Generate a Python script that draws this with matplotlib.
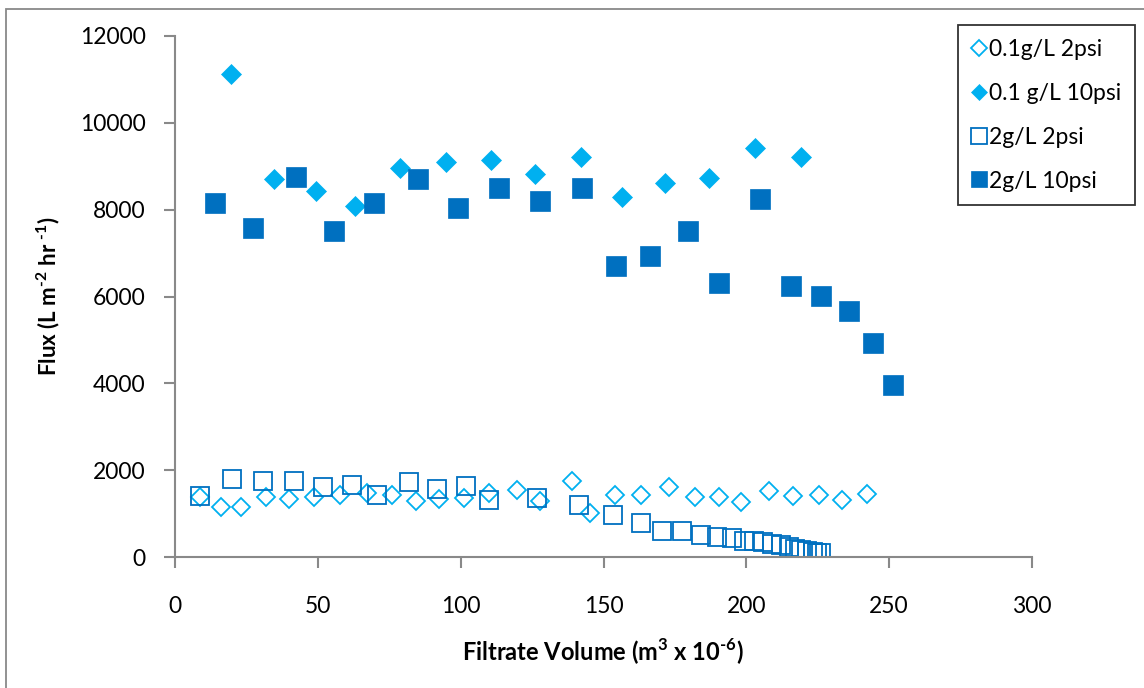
import matplotlib.pyplot as plt
from matplotlib.patches import Rectangle

plt.rcParams['font.family'] = ['Lato', 'DejaVu Sans']
plt.rcParams['mathtext.fontset'] = 'custom'
plt.rcParams['mathtext.rm'] = 'Lato'
plt.rcParams['mathtext.bf'] = 'Lato:bold'

# 0.1 g/L at 2 psi
vol_01_2 = [8.8, 16, 23, 31.9, 40, 48.7, 57.8, 67.1, 76, 84.4, 92.5, 101.2, 110, 119.6,
            127.8, 139, 145.3, 154.1, 163, 173, 181.9, 190.3, 198.2, 207.8, 216.4,
            225.3, 233.5, 242.3]
flux_01_2 = [1390, 1160, 1160, 1375, 1330, 1375, 1435, 1465, 1435, 1300, 1330, 1350, 1465,
             1540, 1300, 1755, 1020, 1435, 1435, 1620, 1390, 1390, 1270, 1525, 1405,
             1420, 1315, 1450]

# 0.1 g/L at 10 psi
vol_01_10 = [19.6, 34.7, 49.4, 63, 78.8, 94.9, 110.6, 126, 142.1, 156.5, 171.5, 186.9,
             203, 219.1]
flux_01_10 = [11130, 8710, 8430, 8080, 8950, 9100, 9150, 8820, 9210, 8290, 8610, 8720,
              9410, 9210]

# 2 g/L at 2 psi
vol_2_2 = [8.8, 20, 30.9, 41.7, 51.7, 62, 70.8, 81.8, 91.6, 101.7, 109.8, 126.6, 141.5,
           153.4, 163.2, 170.5, 177.5, 184, 189.6, 195, 199.2, 202.7, 205.7, 209, 212,
           214.8, 217.1, 219.2, 221.3, 223.2, 224.8, 226.2]
flux_2_2 = [1405, 1800, 1740, 1740, 1605, 1650, 1435, 1725, 1560, 1635, 1315, 1360, 1205,
            960, 790, 605, 590, 515, 455, 435, 375, 360, 345, 300, 270, 225, 190, 160,
            130, 115, 100, 85]

# 2 g/L at 10 psi
vol_2_10 = [14, 27.3, 42.4, 55.7, 69.7, 85.1, 99.1, 113.4, 127.8, 142.5, 154.4, 166.3,
            179.6, 190.4, 204.8, 215.6, 226.1, 236, 244.3, 251.3]
flux_2_10 = [8150, 7575, 8760, 7510, 8150, 8710, 8040, 8490, 8200, 8490, 6700, 6930,
             7500, 6310, 8240, 6240, 6010, 5670, 4930, 3960]

light = '#00B0F0'
dark = '#0070C0'
grey = '#898989'

fig = plt.figure(figsize=(11.44, 6.88), dpi=100)
ax = fig.add_axes([175 / 1144, 1 - 557 / 688, 857 / 1144, 521 / 688])

ax.plot(vol_01_2, flux_01_2, 'D', ms=9.6, mfc='white', mec=light, mew=1.3,
        ls='none', label='0.1g/L 2psi')
ax.plot(vol_01_10, flux_01_10, 'D', ms=9.8, mfc=light, mec=light, mew=0.5,
        ls='none', label='0.1 g/L 10psi')
ax.plot(vol_2_2, flux_2_2, 's', ms=13.2, mfc='none', mec=dark, mew=1.3,
        ls='none', label='2g/L 2psi')
ax.plot(vol_2_10, flux_2_10, 's', ms=14.2, mfc=dark, mec=dark, mew=0.5,
        ls='none', label='2g/L 10psi')

ax.set_xlim(0, 300)
ax.set_ylim(0, 12000)
ax.set_xticks(range(0, 301, 50))
ax.set_yticks(range(0, 12001, 2000))

for side in ['top', 'right']:
    ax.spines[side].set_visible(False)
for side in ['left', 'bottom']:
    ax.spines[side].set_color(grey)
    ax.spines[side].set_linewidth(1.5)
ax.tick_params(axis='both', direction='out', length=8, width=1.5, color=grey,
               labelsize=16.5, labelcolor='black')
ax.tick_params(axis='x', pad=20)
ax.tick_params(axis='y', pad=13)

fig.text(603 / 1144, 1 - 652 / 688, 'Filtrate Volume (m$^{\\mathbf{3}}$ x 10$^{\\mathbf{\u2010 6}}$)',
         fontsize=17, fontweight='bold', ha='center', va='center')
fig.text(48 / 1144, 1 - 296 / 688, 'Flux (L m$^{\\mathbf{\u2010 2}}$ hr $^{\\mathbf{\u2010 1}}$)',
         fontsize=16, fontweight='bold', ha='center', va='center', rotation=90)

leg = ax.legend(loc='upper right', bbox_to_anchor=(1135 / 1144, 1 - 25 / 688),
                bbox_transform=fig.transFigure, fancybox=False, frameon=True,
                edgecolor='black', fontsize=16.5, handlelength=0.65, handletextpad=0.1,
                labelspacing=1.0, borderpad=0.6, borderaxespad=0, markerscale=0.85)
leg.get_frame().set_linewidth(1.3)

# chart border
fig.patches.append(Rectangle((6 / 1144, -0.1), 1.2, 1.1 - 9 / 688, transform=fig.transFigure,
                             fill=False, edgecolor=grey, linewidth=1.3))

fig.savefig('out.png', dpi=100)
